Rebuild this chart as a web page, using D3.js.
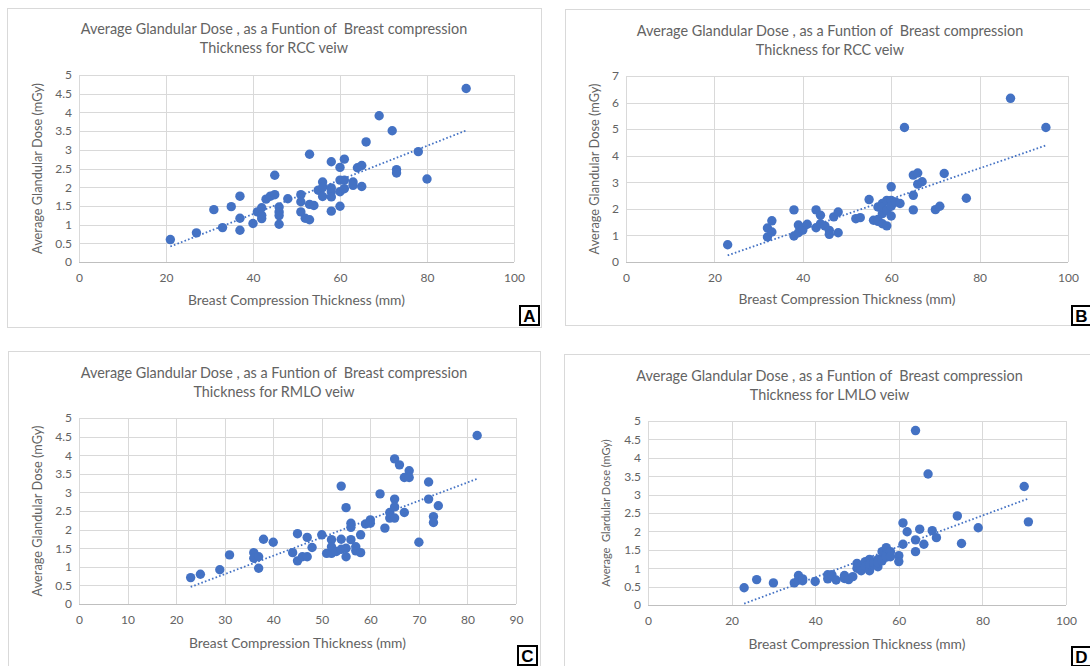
<!DOCTYPE html>
<html>
<head>
<meta charset="utf-8">
<script src="https://cdn.jsdelivr.net/npm/d3@7"></script>
<style>
  body { margin: 0; background: #fff; }
  svg { display: block; font-family: Lato, "Open Sans", sans-serif; }
</style>
</head>
<body>
<svg id="chart" width="1090" height="666"></svg>
<script>
// values: [thickness mm, dose mGy]
var rccA = [
  [21,0.6],[27,0.78],[31,1.4],[33,0.92],[35,1.48],[37,1.76],[37,1.17],[37,0.85],
  [40,1.03],[41,1.34],[42,1.45],[42,1.16],[42,1.25],[43,1.68],[44,1.76],[45,1.8],
  [45,2.32],[46,1.47],[46,1.34],[46,1.24],[46,1.01],[48,1.69],[51,1.8],[51,1.61],
  [51,1.34],[52,1.17],[53,1.13],[53,2.88],[53,1.54],[54,1.51],[55,1.92],[56,2.14],
  [56,1.99],[56,1.75],[58,2.68],[58,1.98],[58,1.88],[58,1.74],[58,1.36],[60,2.53],
  [60,2.19],[60,1.88],[60,1.49],[61,2.75],[61,2.19],[61,1.96],[63,2.14],[63,2.05],
  [64,2.52],[65,2.58],[65,2.02],[66,3.21],[69,3.91],[72,3.51],[73,2.47],[73,2.38],
  [78,2.95],[80,2.22],[89,4.64]
];
var rccB = [
  [23,0.65],[32,1.28],[32,0.94],[33,1.55],[33,1.13],[38,1.96],[38,0.98],[39,1.39],
  [39,1.1],[40,1.28],[40,1.2],[41,1.42],[43,1.96],[43,1.29],[44,1.76],[44,1.44],
  [45,1.36],[46,1.19],[46,1.04],[47,1.7],[48,1.88],[48,1.1],[52,1.63],[53,1.67],
  [55,2.35],[56,1.57],[57,2.07],[57,1.53],[57,1.6],[58,2.2],[58,1.82],[58,1.44],
  [58,2.07],[59,2.32],[59,1.36],[59,1.95],[60,2.83],[60,2.32],[60,1.73],[60,2.1],
  [61,2.26],[62,2.2],[63,5.06],[65,3.27],[65,2.51],[65,1.96],[66,3.35],[66,2.93],
  [67,3.02],[70,1.97],[71,2.1],[72,3.33],[77,2.4],[87,6.16],[95,5.06]
];
var rmloC = [
  [23,0.71],[25,0.8],[29,0.92],[31,1.32],[36,1.38],[36,1.23],[37,1.27],[37,0.96],
  [38,1.74],[40,1.66],[44,1.38],[45,1.89],[45,1.16],[46,1.27],[47,1.79],[47,1.27],
  [48,1.52],[50,1.86],[51,1.36],[52,1.73],[52,1.36],[52,1.54],[53,1.41],[54,3.17],
  [54,1.74],[54,1.47],[55,2.59],[55,1.27],[55,1.5],[56,2.17],[56,2.06],[56,1.73],
  [57,1.54],[57,1.43],[58,1.86],[58,1.38],[59,2.15],[60,2.26],[60,2.17],[62,2.96],
  [63,2.04],[64,2.46],[64,2.31],[65,3.9],[65,2.82],[65,2.61],[65,2.31],[66,3.74],
  [67,2.46],[67,3.4],[68,3.58],[68,3.4],[70,1.66],[72,3.28],[72,2.82],[73,2.35],
  [73,2.19],[74,2.64],[82,4.53]
];
var lmloD = [
  [23,0.47],[26,0.69],[30,0.6],[35,0.6],[36,0.8],[36,0.68],[37,0.71],[37,0.66],
  [40,0.64],[43,0.82],[43,0.71],[44,0.82],[45,0.68],[47,0.8],[47,0.72],[48,0.69],
  [49,0.77],[50,1.13],[50,1.0],[51,1.06],[51,0.93],[52,1.18],[52,1.05],[53,1.24],
  [53,0.93],[53,1.1],[54,1.09],[54,1.15],[55,1.04],[55,1.24],[55,1.15],[56,1.27],
  [56,1.45],[56,1.2],[57,1.56],[57,1.36],[57,1.3],[58,1.45],[58,1.31],[60,1.34],
  [60,1.18],[61,1.65],[61,2.23],[62,1.99],[64,4.74],[64,1.77],[64,1.45],[65,2.06],
  [66,1.65],[67,3.56],[68,2.02],[69,1.83],[74,2.42],[75,1.67],[79,2.1],[90,3.22],
  [91,2.26]
];

var titleLine1 = "Average Glandular Dose , as a Funtion of  Breast compression";
var titlesLine2 = ["Thickness for RCC veiw", "Thickness for RCC veiw",
                   "Thickness for RMLO veiw", "Thickness for LMLO veiw"];
var xTitle = "Breast Compression Thickness (mm)";
var yTitles = ["Average Glandular Dose (mGy)", "Average Glandular Dose (mGy)",
               "Average Glandular Dose (mGy)", "Average  Glardular Dose (mGy)"];
var panelLetters = ["A", "B", "C", "D"];
var xMaxes = [100, 100, 90, 100];
var xSteps = [20, 20, 10, 20];
var yMaxes = [5, 7, 5, 5];
var ySteps = [0.5, 1, 0.5, 0.5];

var textColor = "#636363";
var gridColor = "#d9d9d9";
var dotColor = "#4472c4";

var svg = d3.select("#chart");

// layout of each panel on the page
var panels = [
  {data: rccA,  frame: [7, 8, 541, 327],    plot: [79, 75, 514, 262],   titleY: 29,  xlabY: 300, ylabX: 37,  ylabSize: 12.8, box: [519, 305]},
  {data: rccB,  frame: [565, 9, 1100, 325], plot: [626, 76, 1068, 262], titleY: 31,  xlabY: 299, ylabX: 594, ylabSize: 12.8, box: [1071, 305]},
  {data: rmloC, frame: [8, 351, 540, 680],  plot: [79, 418, 516, 604],  titleY: 373, xlabY: 643, ylabX: 37,  ylabSize: 12.8, box: [517, 645]},
  {data: lmloD, frame: [564, 354, 1100, 680], plot: [648, 421, 1066, 605], titleY: 376, xlabY: 644, ylabX: 605, ylabSize: 11, box: [1071, 646]}
];

function fitLine(pts){
  var n = pts.length;
  var mx = d3.mean(pts, function(d){return d[0];});
  var my = d3.mean(pts, function(d){return d[1];});
  var sxy = 0, sxx = 0;
  for(var i = 0; i < n; i++){
    sxy += (pts[i][0]-mx)*(pts[i][1]-my);
    sxx += (pts[i][0]-mx)*(pts[i][0]-mx);
  }
  var b = sxy/sxx;
  return {b: b, a: my - b*mx};
}

panels.forEach(function(p, i){
  var g = svg.append("g");
  var f = p.frame, pl = p.plot;

  // outer chart frame
  g.append("rect")
    .attr("x", f[0] + 0.5).attr("y", f[1] + 0.5)
    .attr("width", f[2]-f[0]).attr("height", f[3]-f[1])
    .attr("fill", "#fff").attr("stroke", gridColor);

  var x = d3.scaleLinear().domain([0, xMaxes[i]]).range([pl[0], pl[2]]);
  var y = d3.scaleLinear().domain([0, yMaxes[i]]).range([pl[3], pl[1]]);
  var xt = d3.range(0, xMaxes[i] + 0.001, xSteps[i]);
  var yt = d3.range(0, yMaxes[i] + 0.001, ySteps[i]);

  //gridlines
  g.append("g").selectAll("line").data(xt).enter().append("line")
    .attr("x1", function(d){return Math.round(x(d))+0.5;})
    .attr("x2", function(d){return Math.round(x(d))+0.5;})
    .attr("y1", pl[1]).attr("y2", pl[3])
    .attr("stroke", gridColor);
  g.append("g").selectAll("line").data(yt).enter().append("line")
    .attr("x1", pl[0]).attr("x2", pl[2])
    .attr("y1", function(d){return Math.round(y(d))+0.5;})
    .attr("y2", function(d){return Math.round(y(d))+0.5;})
    .attr("stroke", function(d){return d === 0 ? "#bfbfbf" : gridColor;});

  // axes, only used for the tick labels
  var xAxis = d3.axisBottom(x).tickValues(xt).tickSize(0).tickPadding(11)
    .tickFormat(d3.format("d"));
  var yAxis = d3.axisLeft(y).tickValues(yt).tickSize(0).tickPadding(7)
    .tickFormat(function(d){return d3.format("")(+d.toFixed(1));});
  var xa = g.append("g").attr("transform", "translate(0," + pl[3] + ")").call(xAxis);
  var ya = g.append("g").attr("transform", "translate(" + pl[0] + ",0)").call(yAxis);
  [xa, ya].forEach(function(a){
    a.select(".domain").remove();
    a.selectAll("text").attr("fill", textColor)
      .style("font-size", "12px").style("font-family", "Lato, 'Open Sans', sans-serif");
  });

  // trendline (linear least squares, dotted like the Excel one)
  var fit = fitLine(p.data);
  var xr = d3.extent(p.data, function(d){return d[0];});
  g.append("line")
    .attr("x1", x(xr[0])).attr("y1", y(fit.a + fit.b*xr[0]))
    .attr("x2", x(xr[1])).attr("y2", y(fit.a + fit.b*xr[1]))
    .attr("stroke", dotColor).attr("stroke-width", 1.8)
    .attr("stroke-dasharray", "1.6,2.2");

  // points
  g.append("g").selectAll("circle").data(p.data).enter().append("circle")
    .attr("cx", function(d){return x(d[0]);})
    .attr("cy", function(d){return y(d[1]);})
    .attr("r", 4.7)
    .attr("fill", dotColor);

  // titles
  var cx = (f[0] + Math.min(f[2], 1095))/2;
  var tg = g.append("g").attr("fill", textColor).style("font-size", "14.4px");
  tg.append("text").attr("x", cx).attr("y", p.titleY + 5)
    .attr("text-anchor", "middle").style("white-space", "pre").text(titleLine1);
  tg.append("text").attr("x", cx).attr("y", p.titleY + 24)
    .attr("text-anchor", "middle").text(titlesLine2[i]);

  g.append("text").attr("x", (pl[0]+pl[2])/2).attr("y", p.xlabY + 5)
    .attr("text-anchor", "middle").attr("fill", textColor)
    .style("font-size", "13.8px").text(xTitle);

  g.append("text")
    .attr("transform", "translate(" + (p.ylabX + 5) + "," + ((pl[1]+pl[3])/2) + ") rotate(-90)")
    .attr("text-anchor", "middle").attr("fill", textColor)
    .style("font-size", p.ylabSize + "px").style("white-space", "pre").text(yTitles[i]);

  // panel letter box
  var bx = p.box[0], by = p.box[1];
  g.append("rect").attr("x", bx + 1).attr("y", by + 1).attr("width", 19).attr("height", 19)
    .attr("fill", "#fff").attr("stroke", "#000").attr("stroke-width", 2);
  g.append("text").attr("x", bx + 10.5).attr("y", by + 17)
    .attr("text-anchor", "middle").attr("fill", "#000")
    .style("font-family", "'Liberation Sans', Arial, sans-serif")
    .style("font-weight", "bold").style("font-size", "17px").text(panelLetters[i]);
});
</script>
</body>
</html>
